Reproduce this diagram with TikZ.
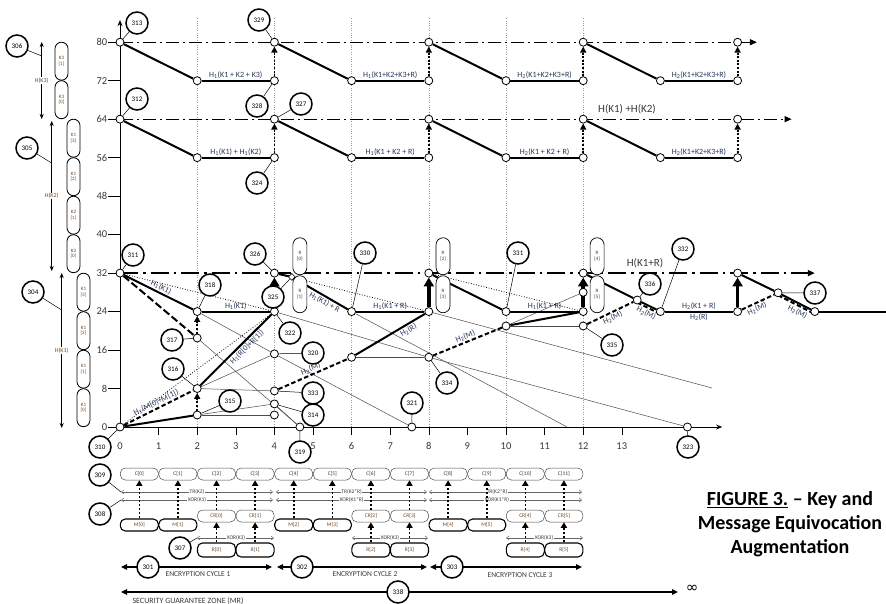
\documentclass[tikz,border=0pt]{standalone}
\usepackage{fontspec}
\setmainfont{Carlito}
\newfontfamily\djv{DejaVu Sans}
\usetikzlibrary{arrows.meta,shapes.geometric}
\pgfdeclarelayer{bg}
\pgfsetlayers{bg,main}
\definecolor{lblc}{HTML}{24375A}
\definecolor{brn}{HTML}{6E4520}
\definecolor{tgray}{HTML}{3A3A3A}
\newcommand\hsub[1]{H\textsubscript{#1}}
\tikzset{
 pt/.style={circle,draw,fill=white,inner sep=0pt,minimum size=8pt,line width=0.8pt},
 co/.style={circle,draw,line width=1.5pt,fill=white,inner sep=0pt,minimum size=22pt,font=\fontsize{7}{7}\selectfont},
 lead/.style={line width=0.5pt},
 thk/.style={line width=2pt},
 dsh/.style={line width=2pt,dash pattern=on 4.5pt off 2.5pt},
 ldsh/.style={line width=2pt,dash pattern=on 7.5pt off 3pt},
 dotar/.style={line width=1.8pt,dash pattern=on 2pt off 1.6pt,-{Triangle[length=6pt,width=6pt]}},
 bigar/.style={line width=3.6pt,-{Triangle[length=9pt,width=10pt]}},
 ddot/.style={line width=1.2pt,dash pattern=on 13pt off 4pt on 2pt off 4pt,-{Triangle[length=7pt,width=6pt]}},
 thn/.style={line width=0.5pt,black!70},
 dotl/.style={line width=0.8pt,dash pattern=on 0.8pt off 1.8pt},
 gridl/.style={line width=0.4pt,black!40,dash pattern=on 0.8pt off 1.6pt},
 lbl/.style={font=\fontsize{8}{8}\selectfont,text=lblc,inner sep=1.2pt},
 kbox/.style={draw,line width=0.8pt,rounded corners=6.5pt,minimum width=13pt,minimum height=38pt,inner sep=0pt,align=center,font=\fontsize{5}{5.5}\selectfont,text=brn},
 rgbox/.style={draw,fill=white,line width=0.7pt,rounded corners=7pt,minimum width=14pt,minimum height=37pt,inner sep=0pt,align=center,font=\fontsize{5}{5.5}\selectfont,text=tgray},
 hk/.style={line width=0.6pt,{Stealth[length=5pt,width=4pt]}-{Stealth[length=5pt,width=4pt]}},
 hklbl/.style={fill=white,inner sep=0.5pt,font=\fontsize{6}{6}\selectfont,text=brn},
 cbox/.style={draw=black!70,line width=0.5pt,rounded corners=5pt,minimum width=38pt,minimum height=12pt,inner sep=0pt,font=\fontsize{5.5}{6}\selectfont,text=tgray},
 mbox/.style={cbox,line width=1.1pt,draw=black,text=brn},
 crbox/.style={cbox,text=brn},
 rbbox/.style={cbox,line width=1.1pt,draw=black,minimum height=14pt,text=brn},
 dotar2/.style={line width=1.6pt,dash pattern=on 2.2pt off 1.8pt,-{Triangle[length=5.5pt,width=6pt]}},
 dbl/.style={line width=0.45pt,black!60,{Straight Barb[length=2.5pt,width=4pt]}-{Straight Barb[length=2.5pt,width=4pt]}},
 dbllbl/.style={fill=white,inner sep=0.6pt,font=\fontsize{5.5}{6}\selectfont,text=tgray},
 cyc/.style={line width=1.2pt,{Triangle[length=6pt,width=5.5pt]}-{Triangle[length=6pt,width=5.5pt]}},
 cyclbl/.style={font=\fontsize{7.5}{8}\selectfont,text=tgray},
 ticklbl/.style={font=\fontsize{10.5}{11}\selectfont,text=tgray},
 biglbl/.style={font=\fontsize{11}{11}\selectfont,text=tgray},
}
\begin{document}
\begin{tikzpicture}[x=1pt,y=-1pt]
\useasboundingbox (0,0) rectangle (886,604);
\begin{pgfonlayer}{bg}
\fill[white] (0,0) rectangle (886,604);
\end{pgfonlayer}
\begin{scope}[shift={(120pt,-427pt)},x=38.6pt,y=4.81pt]
 \begin{pgfonlayer}{bg}
  \foreach \i in {2,4,...,12} \draw[gridl] (\i,0) -- (\i,85);
  \draw[line width=0.8pt,-{Stealth[length=6pt,width=5pt]}] (0,0) -- (0,84.6);
  \draw[line width=0.8pt,-{Stealth[length=6pt,width=5pt]}] (0,0) -- (15.6,0);
  \foreach \v in {0,8,...,80} {\draw[line width=0.7pt] (-0.3,\v) -- (0,\v);
    \node[ticklbl,anchor=east,inner sep=1pt] at (-0.3,\v) {\v};}
  \foreach \i in {1,...,13} \draw[line width=0.6pt] (\i,0) -- (\i,-1.6);
  \foreach \i in {0,...,13} \node[ticklbl] at (\i,-3.9) {\i};
  \draw[ddot] (0,80) -- (16.5,80);
  \draw[ddot] (0,64) -- (17.4,64);
  \draw[ddot,line width=1.6pt,dash pattern=on 18pt off 5pt on 2.5pt off 5pt] (0,32) -- (18,32);
 \end{pgfonlayer}
 % upper rows
 \foreach \k in {0,1,2,3} {
  \pgfmathsetmacro\xs{4*\k}\pgfmathsetmacro\xm{4*\k+2}\pgfmathsetmacro\xe{4*\k+4}
  \node[pt] (Us\k) at (\xs,80) {};
  \node[pt] (Um\k) at (\xm,72) {};
  \node[pt] (Ue\k) at (\xe,72) {};
  \node[pt] (Ls\k) at (\xs,64) {};
  \node[pt] (Lm\k) at (\xm,56) {};
  \node[pt] (Le\k) at (\xe,56) {};
 }
 \node[pt] (Us4) at (16,80) {};
 \node[pt] (Ls4) at (16,64) {};
 % lower nodes
 \node[pt] (P0) at (0,32) {};
 \node[pt] (P1) at (2,24) {};
 \node[pt] (P2) at (2,18.5) {};
 \node[pt] (P3) at (4,24) {};
 \node[pt] (P4) at (4,32) {};
 \node[pt] (P5) at (0,0) {};
 \node[pt] (P6) at (2,8) {};
 \node[pt] (P7) at (2,2.5) {};
 \node[pt] (P8) at (4,15.2) {};
 \node[pt] (P9) at (4,7.5) {};
 \node[pt] (P10) at (4,4.8) {};
 \node[pt] (P11) at (4,2.5) {};
 \node[pt] (P12) at (4.66,0) {};
 \node[pt] (P13) at (6,24) {};
 \node[pt] (P14) at (8,24) {};
 \node[pt] (P15) at (8,32) {};
 \node[pt] (P16) at (6,14.5) {};
 \node[pt] (P17) at (8,14.5) {};
 \node[pt] (P18) at (7.56,0) {};
 \node[pt] (P19) at (10,24) {};
 \node[pt] (P20) at (10,21) {};
 \node[pt] (P21) at (12,24) {};
 \node[pt] (P22) at (12,28) {};
 \node[pt] (P23) at (12,21) {};
 \node[pt] (P24) at (12,32) {};
 \node[pt] (P25) at (13.4,26.4) {};
 \node[pt] (P26) at (14,24) {};
 \node[pt] (P27) at (16,24) {};
 \node[pt] (P28) at (16,32) {};
 \node[pt] (P29) at (17.05,27.9) {};
 \node[pt] (P30) at (18,24) {};
 \node[pt] (P31) at (14.7,0) {};
 \node[diamond,draw,fill=white,inner sep=0pt,minimum size=7pt,line width=0.6pt] (Dm) at (4.45,31.2) {};
 \coordinate (E1) at (15.34,8.1);
 \coordinate (E2) at (11.58,0);
 \coordinate (E4) at (19.9,24);
 \begin{pgfonlayer}{bg}
  \foreach \k/\la/\lb in {0/{\hsub{1}(K1 + K2 + K3)}/{\hsub{1}(K1) + \hsub{1}(K2)},1/{\hsub{1}(K1+K2+K3+R)}/{\hsub{1}(K1 + K2 + R)},2/{\hsub{2}(K1+K2+K3+R)}/{\hsub{2}(K1 + K2 + R)},3/{\hsub{2}(K1+K2+K3+R)}/{\hsub{2}(K1+K2+K3+R)}} {
   \pgfmathtruncatemacro\kk{\k+1}
   \draw[thk] (Us\k) -- (Um\k);
   \draw[thk] (Um\k) -- node[lbl,above]{\la} (Ue\k);
   \draw[dotar] (Ue\k) -- (Us\kk);
   \draw[thk] (Ls\k) -- (Lm\k);
   \draw[thk] (Lm\k) -- node[lbl,above]{\lb} (Le\k);
   \draw[dotar] (Le\k) -- (Ls\kk);
  }
  % thin lines
  \draw[thn] (P2) -- (P12);
  \draw[thn] (P10) -- (P12);
  \draw[thn] (P7) -- (P10);
  \draw[thn] (P7) -- (P11);
  \draw[thn] (P6) -- (P8);
  \draw[thn] (P6) -- (P9);
  \draw[thn] (P1) -- (P8);
  \draw[thn] (P8) -- (P18);
  \draw[thn] (P3) -- (P17);
  \draw[thn] (P17) -- (P31);
  \draw[thn] (P14) -- (E1);
  \draw[thn] (P16) -- (P17);
  \draw[thn] (P13) -- (E2);
  \draw[thn] (P20) -- (P23);
  \draw[thn] (P20) -- (P22);
  % dotted
  \draw[dotl] (P0) -- (P3);
  \draw[dotl] (P5) -- (P3);
  \draw[dotl] (P4) -- (P14);
  \draw[dotl] (P15) -- (P21);
  % thick
  \draw[thk] (P0) -- node[lbl,sloped,above]{\hsub{1}(K1)} (P1);
  \draw[thk] (P1) -- node[lbl,above]{\hsub{1}(K1)} (P3);
  \draw[ldsh] (P0) -- (P2);
  \draw[dotar] (P2) -- (P1);
  \draw[dsh] (P5) -- node[lbl,sloped,above]{\hsub{1}(M[0]+M[1])} (P6);
  \draw[thk] (P5) -- (P7);
  \draw[dotar] (P7) -- (P6);
  \draw[thk] (P6) -- node[lbl,sloped,below,pos=0.6]{\hsub{1}(R[0]+R[1])} (P3);
  \draw[bigar] (P3) -- (P4);
  \draw[thk] (P4) -- (Dm);
  \draw[thk] (Dm) -- node[lbl,sloped,below,pos=0.62]{\hsub{1}(K1) + R} (P13);
  \draw[thk] (P13) -- node[lbl,above]{\hsub{1}(K1 + R)} (P14);
  \draw[dsh] (P9) -- node[lbl,sloped,above]{\hsub{2}(M)} (P16);
  \draw[thk] (P16) -- node[lbl,sloped,below,pos=0.72]{\hsub{2}(R)} (P14);
  \draw[bigar] (P14) -- (P15);
  \draw[thk] (P15) -- (P19);
  \draw[dsh] (P17) -- node[lbl,sloped,above]{\hsub{2}(M)} (P20);
  \draw[thk] (P19) -- node[lbl,above]{\hsub{1}(K1 + R)} (P21);
  \draw[thk] (P20) -- (P21);
  \draw[bigar] (P21) -- (P24);
  \draw[thk] (P24) -- (P25);
  \draw[thk] (P25) -- (P26);
  \draw[dsh] (P23) -- node[lbl,sloped,below]{\hsub{2}(M)} (P25);
  \draw[dsh] ([yshift=-2.5pt]P25.center) -- node[lbl,sloped,below]{\hsub{2}(M)} ([yshift=-2.5pt]P26.center);
  \draw[thk] (P26) -- node[lbl,above]{\hsub{2}(K1 + R)} node[lbl,below]{\hsub{2}(R)} (P27);
  \draw[bigar] (P27) -- (P28);
  \draw[thk] (P28) -- (P29);
  \draw[thk] (P29) -- (P30);
  \draw[dsh] (P27) -- node[lbl,sloped,below,pos=0.4]{\hsub{2}(M)} (P29);
  \draw[dsh] ([yshift=-2.5pt]P29.center) -- node[lbl,sloped,below,pos=0.6]{\hsub{2}(M)} ([yshift=-2.5pt]P30.center);
  \draw[thk] (P30) -- (E4);
 \end{pgfonlayer}
 % R boxes on graph
 \node[rgbox] (GR0) at (4.66,35.5) {R\\{[0]}};
 \node[rgbox] (GR1) at (4.66,27.6) {R\\{[1]}};
 \node[rgbox] (GR2) at (8.37,35.5) {R\\{[2]}};
 \node[rgbox] (GR3) at (8.37,27.6) {R\\{[3]}};
 \node[rgbox] (GR4) at (12.36,35.5) {R\\{[4]}};
 \node[rgbox] (GR5) at (12.36,27.6) {R\\{[5]}};
\end{scope}
% big labels
\node[biglbl] (hk12) at (627,109) {H(K1) +H(K2)};
\node[biglbl] (hk1r) at (645,263) {H(K1+R)};
% callouts
\foreach \n/\x/\y/\t in {313/137/23/Us0,329/259/20/Us1,328/257/106/Ue0,312/137/99/Ls0,327/301/104/Ls1,324/257/183/Le0,311/133/255/P0,318/210/285/P1,317/172/340/P2,316/173/369/P6,315/230/401/P7,326/255/254/P4,325/273/297/Dm,322/290/333/P3,320/313/353/P8,333/313/393/P9,314/313/415/P10,319/300/452/P12,310/100/447/P5,321/412/403/P18,330/365/253/P13,331/518/253/P19,334/447/383/P17,335/612/345/P23,336/650/284/P25,332/683/249/P26,337/815/293/P29,323/688/447/P31} {
  \node[co] (c\n) at (\x,\y) {\n};
  \draw[lead] (c\n) -- (\t);
}
% left key bars
\node[kbox] (K31) at (61.5,61.2) {K3\\{[1]}};
\node[kbox] (K30) at (61.5,99.7) {K3\\{[0]}};
\node[kbox] (K213) at (73.5,138.2) {K1\\{[3]}};
\node[kbox] (K212) at (73.5,176.7) {K1\\{[2]}};
\node[kbox] (K221) at (73.5,215.2) {K2\\{[1]}};
\node[kbox] (K220) at (73.5,253.7) {K2\\{[0]}};
\node[kbox] (K13) at (83.5,292.2) {K1\\{[3]}};
\node[kbox] (K12) at (83.5,330.7) {K1\\{[2]}};
\node[kbox] (K11) at (83.5,369.2) {K1\\{[1]}};
\node[kbox] (K10) at (83.5,407.7) {K1\\{[0]}};
\coordinate (h3a) at (41.7,42); \coordinate (h3b) at (41.7,119);
\coordinate (h2a) at (51.7,121); \coordinate (h2b) at (51.7,271);
\coordinate (h1a) at (61.7,273); \coordinate (h1b) at (61.7,428);
\draw[hk] (h3a) -- node[hklbl]{H(K3)} (h3b);
\draw[hk] (h2a) -- node[hklbl]{H(K2)} (h2b);
\draw[hk] (h1a) -- node[hklbl]{H(K1)} (h1b);
\coordinate (l306) at (41.7,56); \coordinate (l305) at (51.7,163); \coordinate (l304) at (61.7,310);
\node[co] (c306) at (17,46) {306}; \draw[lead] (c306) -- (l306);
\node[co] (c305) at (27,148) {305}; \draw[lead] (c305) -- (l305);
\node[co] (c304) at (33,292) {304}; \draw[lead] (c304) -- (l304);
% bottom encryption rows
\foreach \a/\b/\c/\t/\u in {121/273/197/TR(K2)/XOR(K1),276/427/351.6/TR(K2*R)/XOR(K1*R),429/582/497/TR(K2*R)/XOR(K1*R)} {
  \coordinate (ta\a) at (\a,492); \coordinate (tb\a) at (\b,492);
  \coordinate (xa\a) at (\a,500); \coordinate (xb\a) at (\b,500);
  \draw[dbl] (ta\a) -- (tb\a);
  \draw[dbl] (xa\a) -- (xb\a);
  \node[dbllbl] at (\c,492) {\t};
  \node[dbllbl] at (\c,500) {\u};
}
\foreach \a/\b/\c in {197/274/236,352/428/390,506/583/544} {
  \coordinate (ka\a) at (\a,538); \coordinate (kb\a) at (\b,538);
  \draw[dbl] (ka\a) -- (kb\a);
  \node[dbllbl] at (\c,538) {XOR(K3)};
}
\foreach \i in {0,...,11} \node[cbox] (C\i) at ({120+38.6*(\i+0.5)},474) {C[\i]};
\foreach \i/\j in {0/0,1/1,2/4,3/5,4/8,5/9} {
  \node[mbox] (M\i) at ({120+38.6*(\j+0.5)},525) {M[\i]};
  \draw[dotar2] (M\i) -- (C\j);
}
\foreach \i/\j in {0/2,1/3,2/6,3/7,4/10,5/11} {
  \node[crbox] (CR\i) at ({120+38.6*(\j+0.5)},516) {CR[\i]};
  \node[rbbox] (R\i) at ({120+38.6*(\j+0.5)},550) {R[\i]};
  \draw[dotar2] (CR\i) -- (C\j);
  \draw[dotar2] (R\i) -- (CR\i);
}
\node[co] (c309) at (100,475) {309}; \draw[lead] (c309) -- (ta121);
\node[co] (c308) at (100,514) {308}; \draw[lead] (c308) -- (xa121);
\node[co] (c307) at (180,548) {307}; \draw[lead] (c307) -- (ka197);
% cycles
\coordinate (e1a) at (121,567); \coordinate (e1b) at (272,567);
\coordinate (e2a) at (277,567); \coordinate (e2b) at (427,567);
\coordinate (e3a) at (430,567); \coordinate (e3b) at (582,567);
\draw[cyc] (e1a) -- (e1b);
\draw[cyc] (e2a) -- (e2b);
\draw[cyc] (e3a) -- (e3b);
\node[co] (c301) at (148,567) {301};
\node[co] (c302) at (302,567) {302};
\node[co] (c303) at (452,567) {303};
\node[cyclbl] at (198,574) {ENCRYPTION CYCLE 1};
\node[cyclbl] at (365,574) {ENCRYPTION CYCLE 2};
\node[cyclbl] at (520,575) {ENCRYPTION CYCLE 3};
\coordinate (s1) at (121,592); \coordinate (s2) at (678,592);
\draw[cyc] (s1) -- (s2);
\node[co] (c338) at (398,592) {338};
\node[cyclbl,font=\fontsize{8}{8}\selectfont] at (188,601) {SECURITY GUARANTEE ZONE (MR)};
\node[font=\djv\fontsize{15}{15}\selectfont] at (692,589) {∞};
\node[font=\fontsize{20}{24}\selectfont\bfseries,align=center] at (790,524) {\underline{FIGURE 3.} – Key and\\Message Equivocation\\Augmentation};
\end{tikzpicture}
\end{document}
